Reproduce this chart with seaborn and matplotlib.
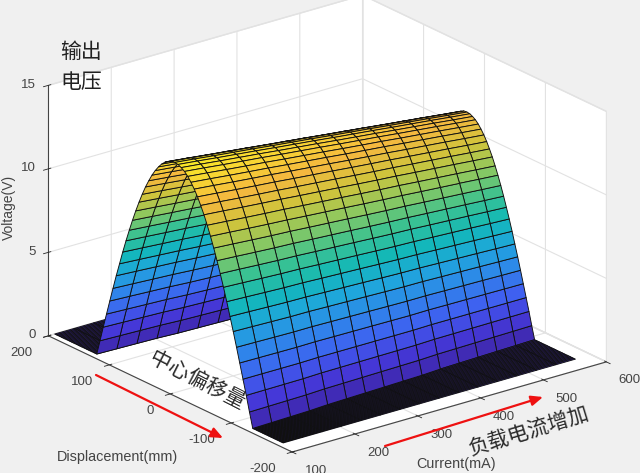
import numpy as np
import matplotlib
matplotlib.use('Agg')
import matplotlib.pyplot as plt
from matplotlib.patches import FancyArrowPatch
import seaborn as sns

# values
current = [110, 141, 172, 203, 234, 265, 296, 327, 358, 389, 420, 451, 482, 513, 544, 575]
ridge_voltage = [13.70, 13.57, 13.43, 13.30, 13.17, 13.03, 12.90, 12.77,
                 12.63, 12.50, 12.37, 12.23, 12.10, 11.97, 11.83, 11.70]
# half width of the arch in mm, it gets narrower with load
half_width = [128, 127, 126, 125, 123, 122, 121, 120, 119, 118, 116, 115, 114, 113, 112, 111]
arch_center = 3
disp_start = -175
disp_end = 200
# rows of the flat parts, as share of the way from the edge to the foot
flat_steps = [0.0, 0.04, 0.08, 0.12, 0.16, 0.2, 0.24, 0.28, 0.32, 0.36, 0.4, 0.44,
              0.48, 0.52, 0.56, 0.6, 0.64, 0.68, 0.72, 0.76, 0.8, 0.84, 0.88, 0.92, 0.96]
# rows of the arch: position in half widths, height as share of the ridge
arch_position = [-1.0, -0.958, -0.917, -0.875, -0.833, -0.792, -0.75, -0.708, -0.667, -0.625,
                 -0.583, -0.542, -0.5, -0.458, -0.417, -0.375, -0.333, -0.292, -0.25, -0.208,
                 -0.167, -0.125, -0.083, -0.042, 0.0, 0.042, 0.083, 0.125, 0.167, 0.208,
                 0.25, 0.292, 0.333, 0.375, 0.417, 0.458, 0.5, 0.542, 0.583, 0.625,
                 0.667, 0.708, 0.75, 0.792, 0.833, 0.875, 0.917, 0.958, 1.0]
arch_height = [0, 0.065, 0.131, 0.195, 0.259, 0.321, 0.383, 0.442, 0.5, 0.556,
               0.609, 0.659, 0.707, 0.752, 0.793, 0.832, 0.866, 0.897, 0.924, 0.947,
               0.966, 0.981, 0.991, 0.998, 1.0, 0.998, 0.991, 0.981, 0.966, 0.947,
               0.924, 0.897, 0.866, 0.832, 0.793, 0.752, 0.707, 0.659, 0.609, 0.556,
               0.5, 0.442, 0.383, 0.321, 0.259, 0.195, 0.131, 0.065, 0]
parula = ['#3e26a8', '#4538d8', '#3f5ff0', '#2f85ea', '#1fa6dc', '#12b8b8',
          '#3cc290', '#8cc860', '#cfc43c', '#f5b83f', '#f8dc30', '#f9fb15']

sns.set_style('white')
plt.rcParams['font.family'] = ['Liberation Sans', 'Noto Sans CJK SC']
plt.rcParams['axes.unicode_minus'] = False

steps = np.array(flat_steps)
width = np.array(half_width)
near_foot = arch_center - width
far_foot = arch_center + width
near_rows = disp_start + np.outer(steps, near_foot - disp_start)
arch_rows = arch_center + np.outer(arch_position, width)
far_rows = disp_end + np.outer(steps[::-1], far_foot - disp_end)

Y = np.vstack([near_rows, arch_rows, far_rows])
X = np.tile(current, (Y.shape[0], 1))
heights = [0] * len(flat_steps) + arch_height + [0] * len(flat_steps)
Z = np.outer(heights, ridge_voltage)

fig = plt.figure(figsize=(6.4, 4.73), dpi=100, facecolor='#f0f0f0')
ax = fig.add_axes([1 / 640, 6.5 / 473, 1, 1], projection='3d', proj_type='ortho')
ax.set_facecolor('#f0f0f0')
ax.view_init(elev=21.7, azim=-127.8)
ax.set_box_aspect((1, 1, 0.678), zoom=1.28)

cmap = sns.blend_palette(parula, as_cmap=True)
surf = ax.plot_surface(X, Y, Z, cmap=cmap, vmin=0, vmax=14.5, rstride=1, cstride=1,
                       edgecolor='#101010', linewidth=0.65, shade=False, antialiased=True)
surf.set_clip_on(False)

ax.set_xlim(100, 600, view_margin=0)
ax.set_ylim(-200, 200, view_margin=0)
ax.set_zlim(0, 15, view_margin=0)
ax.set_xticks([100, 200, 300, 400, 500, 600])
ax.set_yticks([-200, -100, 0, 100, 200])
ax.set_zticks([0, 5, 10, 15])

for axis in [ax.xaxis, ax.yaxis, ax.zaxis]:
    axis.set_pane_color((1, 1, 1, 1))
    axis.pane.set_edgecolor('#e2e2e2')
    axis.line.set_color('#444444')
    axis.line.set_linewidth(0.8)
    axis._axinfo['grid']['color'] = '#e2e2e2'
    axis._axinfo['grid']['linewidth'] = 0.8
    axis._axinfo['tick']['color'] = '#444444'
    axis._axinfo['tick']['linewidth'] = {True: 0.6, False: 0.4}
ax.tick_params(labelsize=9.5, labelcolor='#444444')
ax.tick_params(axis='x', pad=1)
ax.tick_params(axis='y', pad=1)
ax.tick_params(axis='z', pad=-4)
for label in ax.get_xticklabels():
    label.set_ha('left')
    label.set_va('center')
for label in ax.get_yticklabels() + ax.get_zticklabels():
    label.set_ha('right')
    label.set_va('center')

fig.text(9 / 640, 1 - 207 / 473, 'Voltage(V)', rotation=90, ha='center', va='center',
         fontsize=10, color='#444444')
fig.text(117 / 640, 1 - 457 / 473, 'Displacement(mm)', ha='center', va='center',
         fontsize=10.4, color='#444444')
fig.text(456 / 640, 1 - 464 / 473, 'Current(mA)', ha='center', va='center',
         fontsize=10.4, color='#444444')

fig.text(81 / 640, 1 - 67 / 473, '输出\n电压', ha='center', va='center', fontsize=15,
         color='#222222', linespacing=1.75)
fig.text(197 / 640, 1 - 381 / 473, '中心偏移量', rotation=-27, ha='center', va='center',
         rotation_mode='anchor', fontsize=15, color='#2a2a2a')
fig.text(529 / 640, 1 - 432 / 473, '负载电流增加', rotation=17, ha='center', va='center',
         rotation_mode='anchor', fontsize=15, color='#2a2a2a')

for start, end in [((96, 375), (223, 438)), ((385, 446), (543, 397))]:
    fig.add_artist(FancyArrowPatch((start[0] / 640, 1 - start[1] / 473),
                                   (end[0] / 640, 1 - end[1] / 473),
                                   transform=fig.transFigure, color='#ee1111',
                                   arrowstyle='-|>,head_length=7,head_width=3',
                                   linewidth=1.6, shrinkA=0, shrinkB=0))

fig.savefig('out.png', dpi=100, facecolor=fig.get_facecolor())
